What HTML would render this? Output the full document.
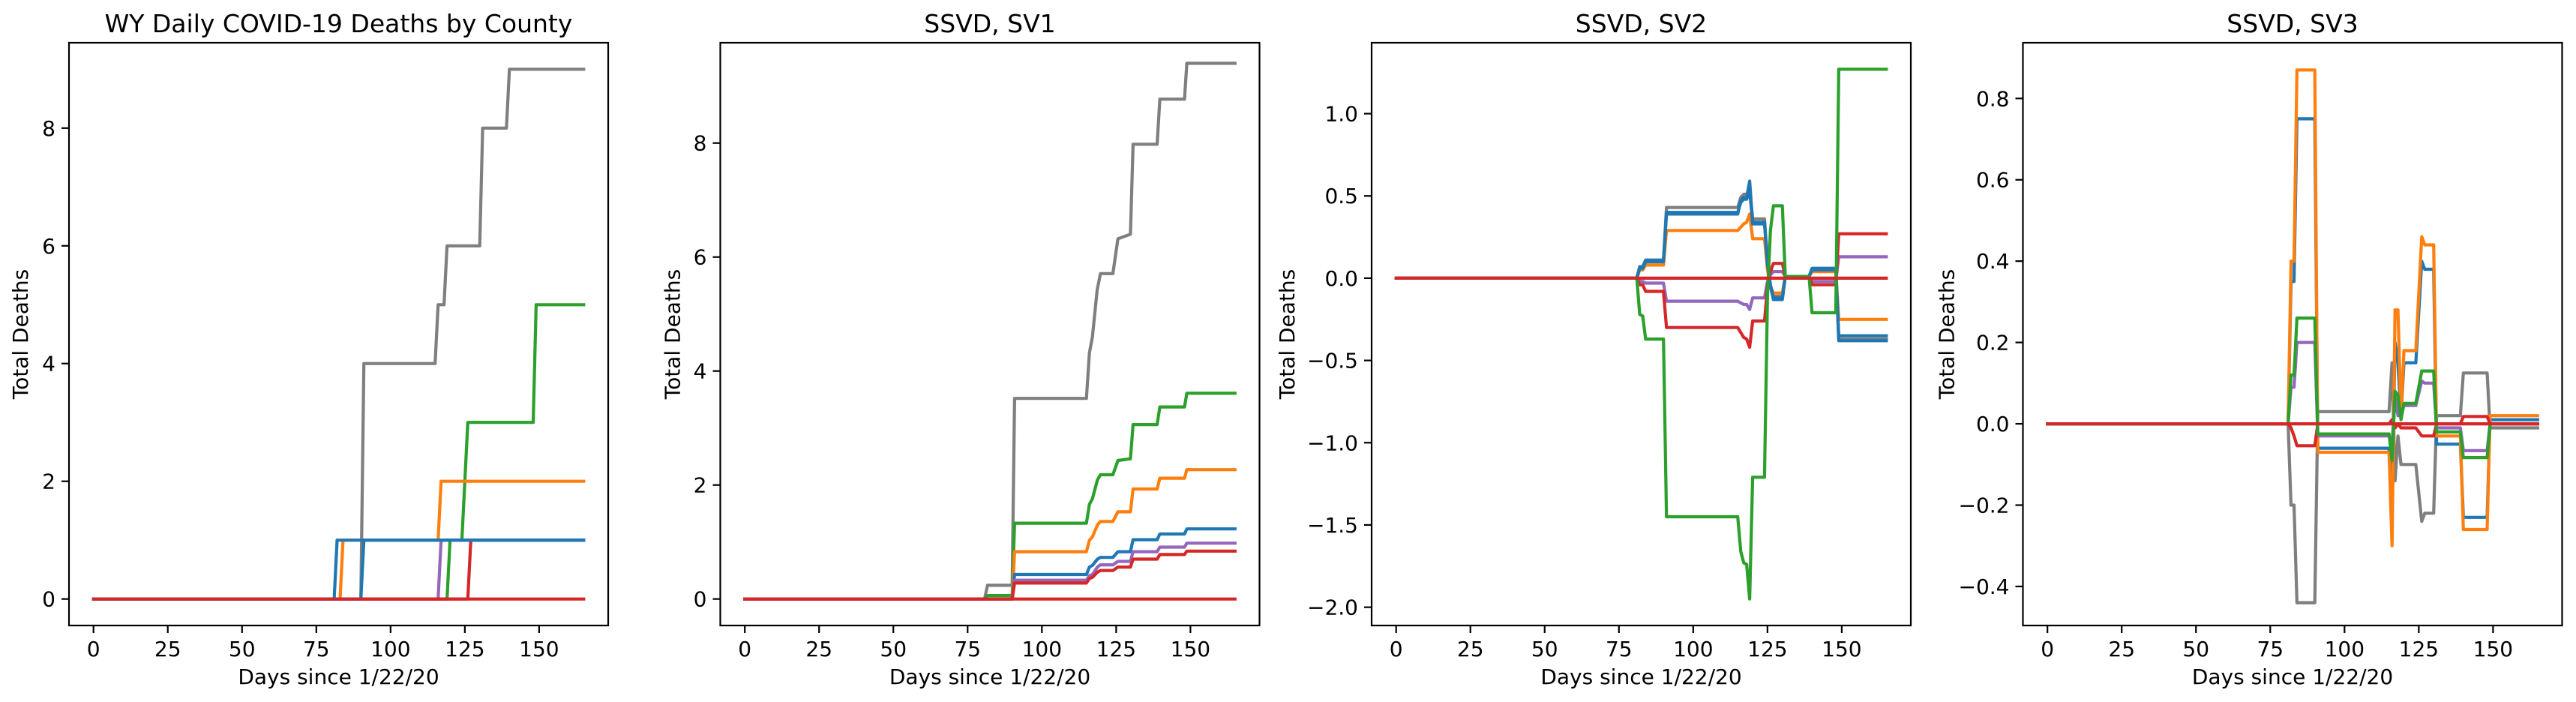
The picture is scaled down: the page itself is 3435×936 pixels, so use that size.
<!DOCTYPE html>
<html><head><meta charset="utf-8">
<style>
html,body{margin:0;padding:0;background:#fff;}
svg{display:block;font-family:"DejaVu Sans","Liberation Sans",sans-serif;}
</style></head>
<body>
<svg id="fig" width="3435" height="936" viewBox="0 0 3435 936" xmlns="http://www.w3.org/2000/svg"></svg>
<script>
// ---------- shared x axis ----------
const xTicks = [0, 25, 50, 75, 100, 125, 150];
const xLim = [-8.25, 173.25];

// ---------- Panel 1 : WY daily deaths ----------
const p1Title = "WY Daily COVID-19 Deaths by County";
const p1YTicks = [0, 2, 4, 6, 8];
const p1YTickLabels = ["0", "2", "4", "6", "8"];
const p1YLim = [-0.45, 9.45];
const p1GreyDays = [0, 90, 91, 115, 116, 118, 119, 130, 131, 139, 140, 165];
const p1GreyVals = [0, 0, 4, 4, 5, 5, 6, 6, 8, 8, 9, 9];
const p1GreenDays = [0, 119, 120, 124, 126, 148, 149, 165];
const p1GreenVals = [0, 0, 1, 1, 3, 3, 5, 5];
const p1OrangeDays = [0, 83, 84, 116, 117, 165];
const p1OrangeVals = [0, 0, 1, 1, 2, 2];
const p1BlueADays = [0, 81, 82, 165];
const p1BlueAVals = [0, 0, 1, 1];
const p1BlueBDays = [0, 90, 91, 165];
const p1BlueBVals = [0, 0, 1, 1];
const p1PurpleDays = [0, 116, 117, 165];
const p1PurpleVals = [0, 0, 1, 1];
const p1RedADays = [0, 126, 127, 165];
const p1RedAVals = [0, 0, 1, 1];
const p1RedZeroDays = [0, 165];
const p1RedZeroVals = [0, 0];

// ---------- Panel 2 : SSVD SV1 ----------
const p2Title = "SSVD, SV1";
const p2YTicks = [0, 2, 4, 6, 8];
const p2YTickLabels = ["0", "2", "4", "6", "8"];
const p2YLim = [-0.465, 9.76];
const p2GreyDays = [0, 80.7, 81.7, 90, 90.8, 115, 116, 117, 118.6, 119.7, 123.9, 125.6, 129.8, 130.7, 138.8, 139.7, 148, 148.8, 165];
const p2GreyVals = [0, 0, 0.24, 0.24, 3.52, 3.52, 4.32, 4.6, 5.42, 5.71, 5.71, 6.32, 6.4, 7.98, 7.98, 8.77, 8.77, 9.4, 9.4];
const p2GreenDays = [0, 80.7, 81.7, 90, 90.8, 115, 116, 117, 118.7, 119.7, 123.9, 125.6, 129.8, 130.7, 138.8, 139.7, 148, 148.8, 165];
const p2GreenVals = [0, 0, 0.06, 0.06, 1.33, 1.33, 1.66, 1.76, 2.09, 2.18, 2.18, 2.43, 2.46, 3.06, 3.06, 3.37, 3.37, 3.61, 3.61];
const p2OrangeDays = [0, 90, 90.8, 115, 116, 117, 118.7, 119.7, 123.9, 125.6, 129.8, 130.7, 138.8, 139.7, 148, 148.8, 165];
const p2OrangeVals = [0, 0, 0.83, 0.83, 1.03, 1.09, 1.3, 1.36, 1.36, 1.53, 1.53, 1.93, 1.93, 2.12, 2.12, 2.27, 2.27];
const p2BlueDays = [0, 90, 90.8, 115, 116, 117, 118.7, 119.7, 123.9, 125.6, 129.8, 130.7, 138.8, 139.7, 148, 148.8, 165];
const p2BlueVals = [0, 0, 0.43, 0.43, 0.56, 0.59, 0.7, 0.73, 0.73, 0.83, 0.83, 1.04, 1.04, 1.14, 1.14, 1.23, 1.23];
const p2PurpleDays = [0, 90, 90.8, 115, 116, 117, 118.7, 119.7, 123.9, 125.6, 129.8, 130.7, 138.8, 139.7, 148, 148.8, 165];
const p2PurpleVals = [0, 0, 0.33, 0.33, 0.41, 0.43, 0.56, 0.6, 0.6, 0.66, 0.66, 0.83, 0.83, 0.91, 0.91, 0.98, 0.98];
const p2RedDays = [0, 90, 90.8, 115, 116, 117, 118.7, 119.7, 123.9, 125.6, 129.8, 130.7, 138.8, 139.7, 148, 148.8, 165];
const p2RedVals = [0, 0, 0.28, 0.28, 0.36, 0.38, 0.47, 0.5, 0.5, 0.56, 0.56, 0.7, 0.7, 0.78, 0.78, 0.84, 0.84];
const p2RedZeroDays = [0, 165];
const p2RedZeroVals = [0, 0];

// ---------- Panel 3 : SSVD SV2 ----------
const p3Title = "SSVD, SV2";
const p3YTicks = [-2, -1.5, -1, -0.5, 0, 0.5, 1];
const p3YTickLabels = ["\u22122.0", "\u22121.5", "\u22121.0", "\u22120.5", "0.0", "0.5", "1.0"];
const p3YLim = [-2.111, 1.431];
const p3Days = [0, 81, 82, 83, 84, 90, 91, 115, 116, 117, 118, 119, 120, 124, 125, 126, 127, 130, 131, 139, 140, 148, 149, 165];
const p3GreenVals = [0, 0, -0.22, -0.23, -0.37, -0.37, -1.45, -1.45, -1.66, -1.73, -1.74, -1.95, -1.21, -1.21, -0.1, 0.29, 0.44, 0.44, 0.01, 0.01, -0.21, -0.21, 1.27, 1.27];
const p3GreyVals = [0, 0, 0.07, 0.07, 0.11, 0.11, 0.43, 0.43, 0.49, 0.51, 0.51, 0.55, 0.36, 0.36, 0.1, -0.05, -0.11, -0.11, 0.01, 0.01, 0.06, 0.06, -0.37, -0.37];
const p3BlueVals = [0, 0, 0.07, 0.07, 0.11, 0.11, 0.39, 0.39, 0.47, 0.49, 0.49, 0.59, 0.33, 0.33, 0.1, -0.05, -0.13, -0.13, 0.01, 0.01, 0.06, 0.06, -0.38, -0.38];
const p3BlueBVals = [0, 0, 0.06, 0.06, 0.1, 0.1, 0.4, 0.4, 0.46, 0.48, 0.48, 0.53, 0.34, 0.34, 0.08, -0.04, -0.12, -0.12, 0.01, 0.01, 0.05, 0.05, -0.35, -0.35];
const p3OrangeVals = [0, 0, 0.05, 0.05, 0.08, 0.08, 0.29, 0.29, 0.31, 0.33, 0.34, 0.39, 0.24, 0.24, 0.05, -0.05, -0.09, -0.09, 0.01, 0.01, 0.04, 0.04, -0.25, -0.25];
const p3PurpleVals = [0, 0, -0.02, -0.02, -0.03, -0.03, -0.14, -0.14, -0.15, -0.16, -0.16, -0.19, -0.12, -0.12, -0.02, 0.02, 0.04, 0.04, 0.01, 0.01, -0.02, -0.02, 0.13, 0.13];
const p3RedVals = [0, 0, -0.04, -0.04, -0.08, -0.08, -0.3, -0.3, -0.33, -0.36, -0.37, -0.42, -0.26, -0.26, -0.05, 0.04, 0.09, 0.09, 0.01, 0.01, -0.04, -0.04, 0.27, 0.27];
const p3RedZeroVals = [0, 0, 0, 0, 0, 0, 0, 0, 0, 0, 0, 0, 0, 0, 0, 0, 0, 0, 0, 0, 0, 0, 0, 0];

// ---------- Panel 4 : SSVD SV3 ----------
const p4Title = "SSVD, SV3";
const p4YTicks = [-0.4, -0.2, 0, 0.2, 0.4, 0.6, 0.8];
const p4YTickLabels = ["\u22120.4", "\u22120.2", "0.0", "0.2", "0.4", "0.6", "0.8"];
const p4YLim = [-0.496, 0.937];
const p4Days = [0, 81, 82, 83, 84, 90, 91, 115, 116, 117, 118, 119, 120, 124, 126, 127, 130, 131, 139, 140, 148, 149, 165];
const p4GreyVals = [0, 0, -0.2, -0.2, -0.44, -0.44, 0.03, 0.03, 0.15, -0.14, -0.03, -0.1, -0.1, -0.1, -0.24, -0.22, -0.22, 0.02, 0.02, 0.125, 0.125, -0.01, -0.01];
const p4OrangeVals = [0, 0, 0.4, 0.4, 0.87, 0.87, -0.07, -0.07, -0.3, 0.28, 0.28, 0.02, 0.18, 0.18, 0.46, 0.44, 0.44, -0.03, -0.03, -0.26, -0.26, 0.02, 0.02];
const p4BlueVals = [0, 0, 0.35, 0.35, 0.75, 0.75, -0.06, -0.06, -0.2, 0.2, 0.15, 0.02, 0.15, 0.15, 0.4, 0.38, 0.38, -0.05, -0.05, -0.23, -0.23, 0.01, 0.01];
const p4GreenVals = [0, 0, 0.12, 0.12, 0.26, 0.26, -0.025, -0.025, -0.09, 0.08, 0.07, 0.01, 0.05, 0.05, 0.13, 0.13, 0.13, -0.02, -0.02, -0.083, -0.083, 0.0, 0.0];
const p4PurpleVals = [0, 0, 0.09, 0.09, 0.2, 0.2, -0.03, -0.03, -0.05, 0.065, 0.02, 0.02, 0.045, 0.045, 0.105, 0.1, 0.1, -0.01, -0.01, -0.066, -0.066, 0.0, 0.0];
const p4RedVals = [0, 0, -0.01, -0.03, -0.054, -0.054, 0, 0, 0.01, -0.01, 0, -0.01, -0.01, -0.01, -0.03, -0.03, -0.03, 0, 0, 0.018, 0.018, 0, 0];
const p4RedZeroVals = [0, 0, 0, 0, 0, 0, 0, 0, 0, 0, 0, 0, 0, 0, 0, 0, 0, 0, 0, 0, 0, 0, 0];

const C = {blue:"#1f77b4", orange:"#ff7f0e", green:"#2ca02c", red:"#d62728", purple:"#9467bd", grey:"#7f7f7f"};
const NS = "http://www.w3.org/2000/svg";
const fig = document.getElementById("fig");
function mk(tag, attrs, parent){ const e = document.createElementNS(NS, tag); for (const k in attrs) e.setAttribute(k, attrs[k]); parent.appendChild(e); return e; }

const AX_TOP = 57, AX_BOT = 834, AX_W = 719;
const lefts = [92, 960.5, 1829, 2697.5];
const ylabOff = [63, 62, 111, 100];

function drawPanel(idx, title, yTicks, yTickLabels, yLim, series){
  const L = lefts[idx];
  const g = mk("g", {}, fig);
  
  
  const sx = d => L + (d - xLim[0]) / (xLim[1] - xLim[0]) * AX_W;
  const sy = v => AX_BOT - (v - yLim[0]) / (yLim[1] - yLim[0]) * (AX_BOT - AX_TOP);
  const clipId = "clip" + idx;
  const cp = mk("clipPath", {id: clipId}, g);
  mk("rect", {x: L, y: AX_TOP, width: AX_W, height: AX_BOT - AX_TOP}, cp);
  const lines = mk("g", {"clip-path": "url(#" + clipId + ")"}, g);
  series.forEach(s => {
    const pts = s.days.map((d, i) => sx(d).toFixed(1) + "," + sy(s.vals[i]).toFixed(1)).join(" ");
    const pl = mk("polyline", {points: pts, fill: "none", stroke: s.color, "stroke-width": 4.2, "stroke-linejoin": "round", "stroke-linecap": "square"}, lines);
    
    
  });
  const frame = mk("rect", {x: L, y: AX_TOP, width: AX_W, height: AX_BOT - AX_TOP, fill: "none", stroke: "#000", "stroke-width": 2.2}, g);
  
  
  xTicks.forEach(t => {
    const x = sx(t);
    mk("line", {x1: x, y1: AX_BOT, x2: x, y2: AX_BOT + 10, stroke: "#000", "stroke-width": 2.2}, g);
    const tx = mk("text", {x: x, y: 875, "font-size": 28, "text-anchor": "middle"}, g);
    tx.textContent = String(t);
    
    
  });
  yTicks.forEach((t, i) => {
    const y = sy(t);
    mk("line", {x1: L - 10, y1: y, x2: L, y2: y, stroke: "#000", "stroke-width": 2.2}, g);
    const tx = mk("text", {x: L - 18, y: y + 10, "font-size": 28, "text-anchor": "end"}, g);
    tx.textContent = yTickLabels[i];
    
    
  });
  const xl = mk("text", {x: L + AX_W/2, y: 912, "font-size": 28, "text-anchor": "middle"}, g);
  xl.textContent = "Days since 1/22/20";
  
  
  const yx = L - ylabOff[idx], yc = (AX_TOP + AX_BOT)/2;
  const yl = mk("text", {x: yx, y: yc, "font-size": 28, "text-anchor": "middle", transform: "rotate(-90 " + yx + " " + yc + ")", "dominant-baseline": "middle"}, g);
  yl.textContent = "Total Deaths";
  
  
  const tt = mk("text", {x: L + AX_W/2, y: 43, "font-size": 33, "text-anchor": "middle"}, g);
  tt.textContent = title;
  
  
}

drawPanel(0, p1Title, p1YTicks, p1YTickLabels, p1YLim, [
  {name:"grey", color:C.grey, days:p1GreyDays, vals:p1GreyVals},
  {name:"green", color:C.green, days:p1GreenDays, vals:p1GreenVals},
  {name:"orange", color:C.orange, days:p1OrangeDays, vals:p1OrangeVals},
  {name:"purple", color:C.purple, days:p1PurpleDays, vals:p1PurpleVals},
  {name:"red-a", color:C.red, days:p1RedADays, vals:p1RedAVals},
  {name:"blue-a", color:C.blue, days:p1BlueADays, vals:p1BlueAVals},
  {name:"blue-b", color:C.blue, days:p1BlueBDays, vals:p1BlueBVals},
  {name:"red-zero", color:C.red, days:p1RedZeroDays, vals:p1RedZeroVals}
]);
drawPanel(1, p2Title, p2YTicks, p2YTickLabels, p2YLim, [
  {name:"grey", color:C.grey, days:p2GreyDays, vals:p2GreyVals},
  {name:"green", color:C.green, days:p2GreenDays, vals:p2GreenVals},
  {name:"orange", color:C.orange, days:p2OrangeDays, vals:p2OrangeVals},
  {name:"blue", color:C.blue, days:p2BlueDays, vals:p2BlueVals},
  {name:"purple", color:C.purple, days:p2PurpleDays, vals:p2PurpleVals},
  {name:"red", color:C.red, days:p2RedDays, vals:p2RedVals},
  {name:"red-zero", color:C.red, days:p2RedZeroDays, vals:p2RedZeroVals}
]);
drawPanel(2, p3Title, p3YTicks, p3YTickLabels, p3YLim, [
  {name:"grey", color:C.grey, days:p3Days, vals:p3GreyVals},
  {name:"orange", color:C.orange, days:p3Days, vals:p3OrangeVals},
  {name:"purple", color:C.purple, days:p3Days, vals:p3PurpleVals},
  {name:"red", color:C.red, days:p3Days, vals:p3RedVals},
  {name:"blue-b", color:C.blue, days:p3Days, vals:p3BlueBVals},
  {name:"blue", color:C.blue, days:p3Days, vals:p3BlueVals},
  {name:"green", color:C.green, days:p3Days, vals:p3GreenVals},
  {name:"red-zero", color:C.red, days:p3Days, vals:p3RedZeroVals}
]);
drawPanel(3, p4Title, p4YTicks, p4YTickLabels, p4YLim, [
  {name:"grey", color:C.grey, days:p4Days, vals:p4GreyVals},
  {name:"blue", color:C.blue, days:p4Days, vals:p4BlueVals},
  {name:"orange", color:C.orange, days:p4Days, vals:p4OrangeVals},
  {name:"purple", color:C.purple, days:p4Days, vals:p4PurpleVals},
  {name:"red", color:C.red, days:p4Days, vals:p4RedVals},
  {name:"green", color:C.green, days:p4Days, vals:p4GreenVals},
  {name:"red-zero", color:C.red, days:p4Days, vals:p4RedZeroVals}
]);
</script>
</body></html>
